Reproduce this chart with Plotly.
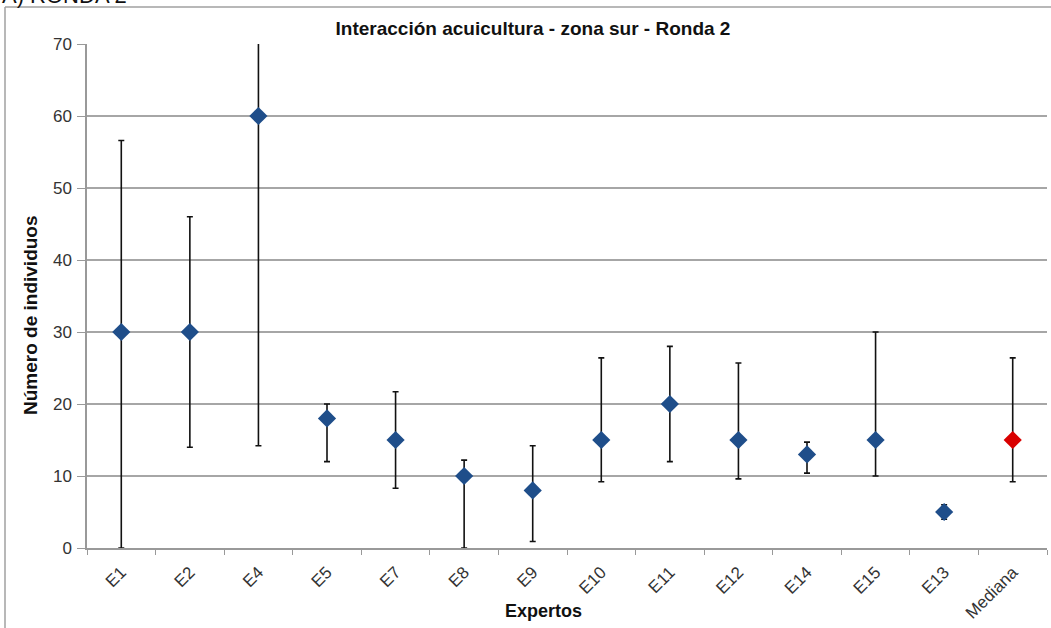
import plotly.graph_objects as go

categories = ["E1", "E2", "E4", "E5", "E7", "E8", "E9", "E10", "E11", "E12", "E14", "E15", "E13", "Mediana"]
valores = [30, 30, 60, 18, 15, 10, 8, 15, 20, 15, 13, 15, 5, 15]
maximos = [56.6, 46.0, 75.0, 20.0, 21.7, 12.2, 14.2, 26.4, 28.0, 25.7, 14.7, 30.0, 6.0, 26.4]
minimos = [0.0, 14.0, 14.2, 12.0, 8.3, 0.0, 0.9, 9.2, 12.0, 9.6, 10.4, 10.0, 4.0, 9.2]
colores = ["#1F4E8A"] * 13 + ["#D90000"]

err_plus = [hi - v for hi, v in zip(maximos, valores)]
err_minus = [v - lo for lo, v in zip(minimos, valores)]

fig = go.Figure()
fig.add_trace(go.Scatter(
    x=categories, y=valores, mode="markers",
    marker=dict(symbol="diamond", size=14, color=colores, line=dict(width=0)),
    error_y=dict(type="data", symmetric=False, array=err_plus, arrayminus=err_minus,
                 color="#111111", thickness=1.6, width=3),
    cliponaxis=True, showlegend=False,
))

W, H = 1051, 628
L, R, T, B = 87, 4, 44, 80
pw, ph = W - L - R, H - T - B
FONT = "Liberation Sans, Arial, sans-serif"

def px_x(px):
    return (px - L) / pw

def px_y(py):
    return (H - B - py) / ph

fig.update_layout(
    width=W, height=H,
    margin=dict(l=L, r=R, t=T, b=B, autoexpand=False),
    paper_bgcolor="white", plot_bgcolor="white",
    font=dict(family=FONT, color="#222222"),
    title=dict(text="<b>Interacción acuicultura - zona sur - Ronda 2</b>",
               x=px_x(533), xref="paper", xanchor="center",
               y=1 - 28 / H, yanchor="middle",
               font=dict(size=19, color="#111111")),
    xaxis=dict(
        type="category", tickangle=-45, tickson="boundaries",
        ticks="outside", ticklen=5, tickcolor="#999999", tickwidth=1.2,
        showline=True, linecolor="#999999", linewidth=1.5,
        showgrid=False, tickfont=dict(size=17, color="#333333"),
        ticklabelstandoff=6, automargin=False,
        range=[-0.5, len(categories) - 0.5],
    ),
    yaxis=dict(
        range=[0, 70], dtick=10, tickmode="linear",
        ticks="outside", ticklen=8, tickcolor="#999999", tickwidth=1.2,
        showline=True, linecolor="#999999", linewidth=1.5,
        showgrid=True, gridcolor="#A6A6A6", gridwidth=1.5,
        zeroline=False, tickfont=dict(size=17, color="#333333"),
        ticklabelstandoff=2, automargin=False,
    ),
)

# axis titles placed as annotations
fig.add_annotation(text="<b>Expertos</b>", xref="paper", yref="paper",
                   x=px_x(543), y=px_y(611), xanchor="center", yanchor="middle",
                   showarrow=False, font=dict(size=18, color="#111111"))
fig.add_annotation(text="<b>Número de individuos</b>", xref="paper", yref="paper",
                   x=px_x(30), y=px_y(315), xanchor="center", yanchor="middle",
                   textangle=-90, showarrow=False, font=dict(size=19, color="#111111"))

# outer chart frame (left and top edges visible)
fx0 = px_x(5)
fy1 = px_y(7)
fig.add_shape(type="line", xref="paper", yref="paper", x0=fx0, x1=fx0, y0=fy1, y1=-1,
              line=dict(color="#A0A0A0", width=1.5))
fig.add_shape(type="line", xref="paper", yref="paper", x0=fx0, x1=2, y0=fy1, y1=fy1,
              line=dict(color="#A0A0A0", width=1.5))

# cropped heading above the chart
fig.add_annotation(text="A) RONDA 2", xref="paper", yref="paper",
                   x=px_x(0), y=px_y(-4), xanchor="left", yanchor="middle",
                   showarrow=False, font=dict(size=22, color="#111111"))

fig.write_html("out.html", config={"displayModeBar": False},
               post_script="document.body.style.margin='0';document.body.style.overflow='hidden';")
